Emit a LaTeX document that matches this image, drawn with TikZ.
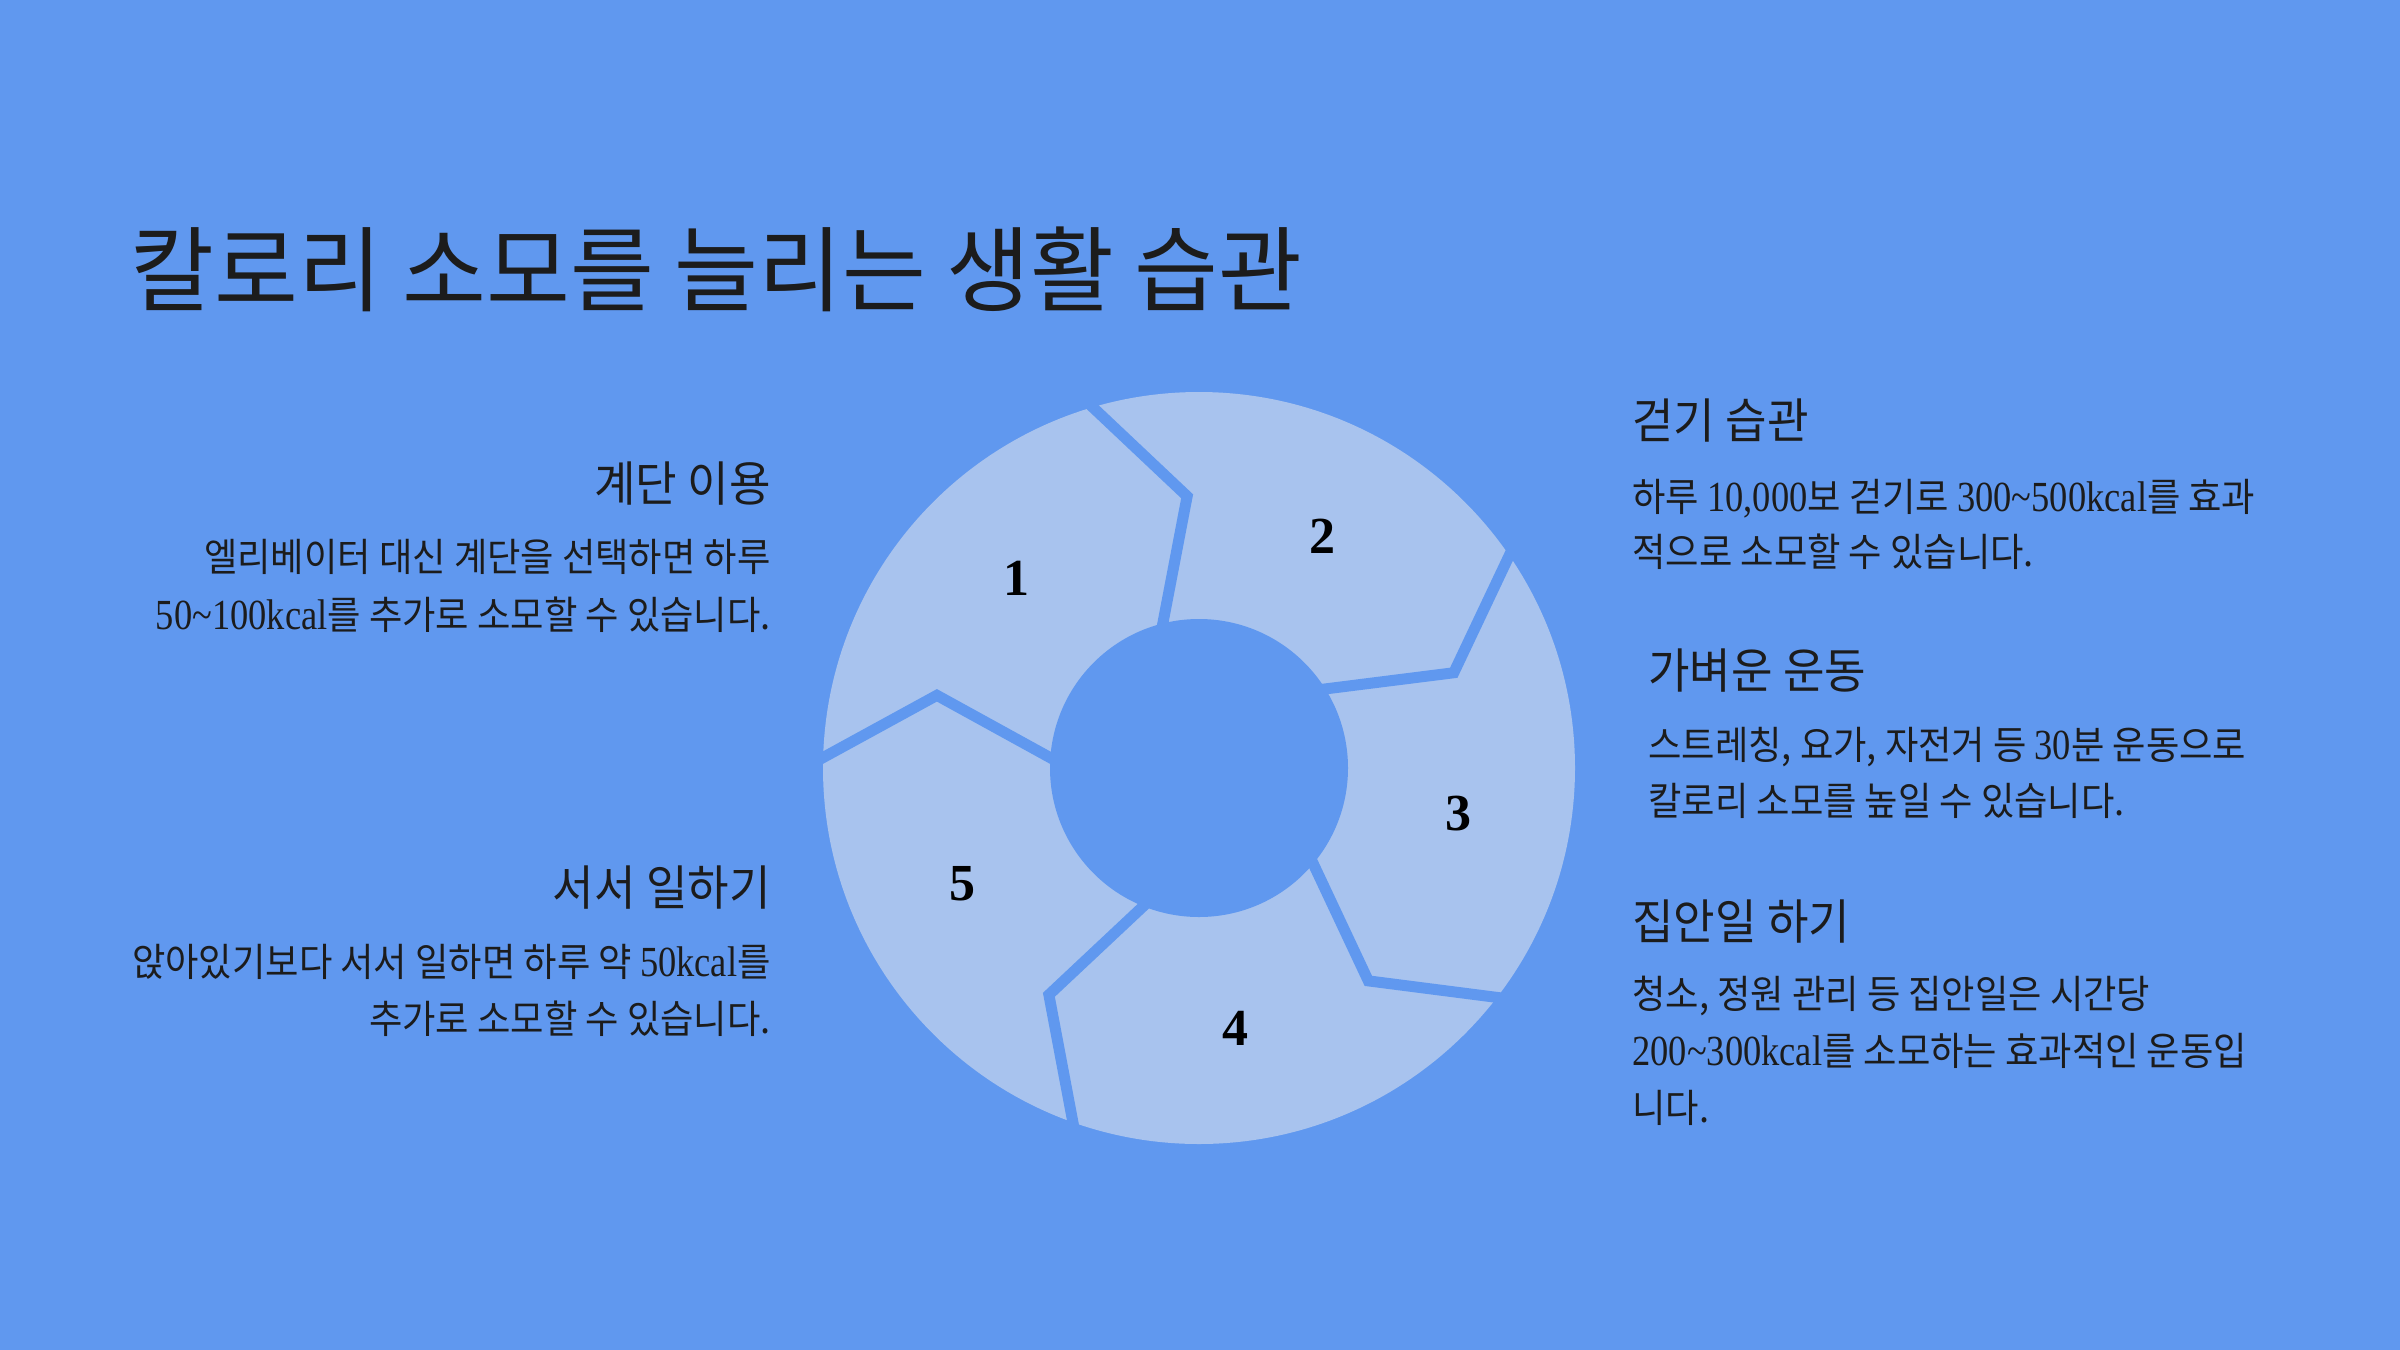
\documentclass[tikz,border=0pt]{standalone}
\usepackage{fontspec}
\setmainfont{Noto Sans CJK KR}[FakeStretch=0.93]
\newfontfamily\titlefont{Noto Sans CJK KR}[FakeStretch=0.98]
\newfontfamily\headfont{Noto Sans CJK KR}[FakeStretch=0.94]
\newfontfamily\lat{Liberation Serif}[Scale=1.1,FakeStretch=0.85]
\newfontfamily\numfont{Liberation Serif}
\definecolor{bgblue}{HTML}{6098EF}
\definecolor{segblue}{HTML}{A8C3EE}
\definecolor{ink}{HTML}{1C1C1C}
\tikzset{
  titletext/.style={font=\fontsize{46.5}{56}\titlefont, text=ink, inner sep=0pt},
  headtext/.style={font=\fontsize{24}{29}\headfont, text=ink, inner sep=0pt},
  bodytext/.style={font=\fontsize{19.5}{23}\selectfont, text=ink, inner sep=0pt},
  numtext/.style={font=\fontsize{26}{31}\numfont\bfseries, text=black, inner sep=0pt},
  gapline/.style={draw=bgblue, line width=5.5pt, line join=miter},
}
\begin{document}
\begin{tikzpicture}[x=0.5pt, y=-0.5pt]
\fill[bgblue] (0,0) rectangle (2400,1350);
\useasboundingbox (0,0) rectangle (2400,1350);

% title
\node[titletext, anchor=base west] (title) at (130,304) {칼로리 소모를 늘리는 생활 습관};

% wheel
\begin{scope}[shift={(1199,768)}, yscale=-1]
  \fill[segblue] (0,0) circle (376);
  \fill[bgblue] (0,0) circle (149);
  \foreach \a [evaluate=\a as \k using \a-15.5] in {180,108,36,-36,-108}
    \draw[gapline] (\a:130) -- (\k:272) -- (\a:395);
  \node[numtext] (n1) at (134:263) {1};
  \node[numtext] (n2) at (62:263) {2};
  \node[numtext] (n3) at (-10:263) {3};
  \node[numtext] (n4) at (-82:263) {4};
  \node[numtext] (n5) at (-154:263) {5};
\end{scope}

% left column
\node[headtext, anchor=base east] (h1) at (771,501) {계단 이용};
\node[bodytext, anchor=base east] (b1a) at (771,571) {엘리베이터 대신 계단을 선택하면 하루};
\node[bodytext, anchor=base east] (b1b) at (771,629) {{\lat 50\textasciitilde100kcal}를 추가로 소모할 수 있습니다.};

\node[headtext, anchor=base east] (h5) at (771,905) {서서 일하기};
\node[bodytext, anchor=base east] (b5a) at (771,976) {앉아있기보다 서서 일하면 하루 약 {\lat 50kcal}를};
\node[bodytext, anchor=base east] (b5b) at (771,1033) {추가로 소모할 수 있습니다.};

% right column
\node[headtext, anchor=base west] (h2) at (1632,438) {걷기 습관};
\node[bodytext, anchor=base west] (b2a) at (1632,511) {하루 {\lat 10,000}보 걷기로 {\lat 300\textasciitilde500kcal}를 효과};
\node[bodytext, anchor=base west] (b2b) at (1632,566) {적으로 소모할 수 있습니다.};

\node[headtext, anchor=base west] (h3) at (1648,688) {가벼운 운동};
\node[bodytext, anchor=base west] (b3a) at (1648,759) {스트레칭, 요가, 자전거 등 {\lat 30}분 운동으로};
\node[bodytext, anchor=base west] (b3b) at (1648,815) {칼로리 소모를 높일 수 있습니다.};

\node[headtext, anchor=base west] (h4) at (1632,939) {집안일 하기};
\node[bodytext, anchor=base west] (b4a) at (1632,1008) {청소, 정원 관리 등 집안일은 시간당};
\node[bodytext, anchor=base west] (b4b) at (1632,1065) {{\lat 200\textasciitilde300kcal}를 소모하는 효과적인 운동입};
\node[bodytext, anchor=base west] (b4c) at (1632,1122) {니다.};
\end{tikzpicture}
\end{document}
